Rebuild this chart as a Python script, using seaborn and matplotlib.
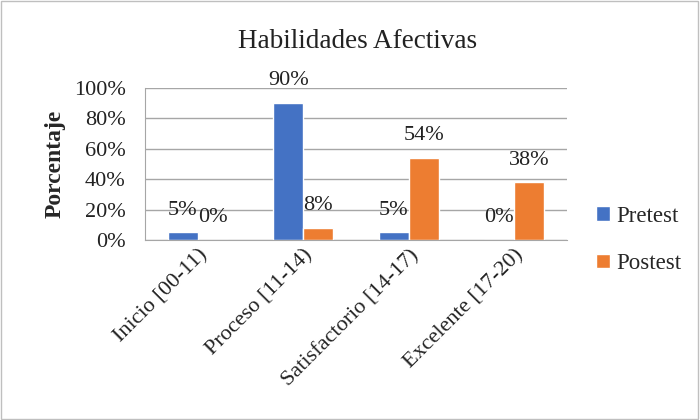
import matplotlib
matplotlib.use("Agg")
import matplotlib.pyplot as plt
import seaborn as sns
import pandas as pd
from matplotlib.patches import Rectangle
from matplotlib.ticker import PercentFormatter

# Data
categorias = ["Inicio [00-11)", "Proceso [11-14)", "Satisfactorio [14-17)", "Excelente [17-20)"]
pretest = [5, 90, 5, 0]
postest = [0, 8, 54, 38]
series = ["Pretest", "Postest"]
colores = ["#4472C4", "#ED7D31"]

df = pd.DataFrame({
    "categoria": categorias * 2,
    "valor": pretest + postest,
    "serie": [series[0]] * len(categorias) + [series[1]] * len(categorias),
})

sns.set_style("white")
plt.rcParams["font.family"] = "serif"
plt.rcParams["font.serif"] = ["Liberation Serif", "DejaVu Serif"]
FAM = ["Liberation Serif", "DejaVu Serif"]

fig = plt.figure(figsize=(7, 4.2), dpi=100)
ax = fig.add_axes([145 / 700, 1 - 240 / 420, 422 / 700, 152 / 420])

sns.barplot(data=df, x="categoria", y="valor", hue="serie", palette=colores,
            width=0.57, saturation=1, ax=ax, legend=True)

# data labels (Excel style, above bars)
for cont in ax.containers:
    for bar in cont:
        h = bar.get_height()
        ax.annotate(f"{h:.0f}%", (bar.get_x() + bar.get_width() / 2, h),
                    xytext=(0, 16), textcoords="offset points",
                    ha="center", va="center", fontsize=16, color="#222222",
                    family=FAM)

ax.set_ylim(0, 100)
ax.set_yticks(range(0, 101, 20))
ax.yaxis.set_major_formatter(PercentFormatter(decimals=0))
ax.yaxis.grid(True, color="#A6A6A6", linewidth=1)
ax.set_axisbelow(True)
ax.tick_params(axis="both", length=0, labelsize=16, colors="#222222")
ax.tick_params(axis="y", pad=14)
ax.tick_params(axis="x", pad=4)
ax.set_xlabel("")
ax.set_ylabel("Porcentaje", fontsize=17, fontweight="bold", labelpad=6, family=FAM)
for lbl in ax.get_xticklabels() + ax.get_yticklabels():
    lbl.set_family(FAM)
for lbl in ax.get_xticklabels():
    lbl.set_rotation(45)
    lbl.set_ha("right")
    lbl.set_rotation_mode("anchor")

for s in ["top", "right"]:
    ax.spines[s].set_visible(False)
ax.spines["left"].set_color("#A6A6A6")
ax.spines["bottom"].set_color("#A6A6A6")

fig.text(358 / 700, 1 - 42 / 420, "Habilidades Afectivas", ha="center", va="center",
         fontsize=19.5, color="#222222", family=FAM)

leg = ax.legend(loc="center left", bbox_to_anchor=(1.02, 0.0), frameon=False,
                prop={"family": FAM, "size": 16.5}, handlelength=0.6, handleheight=0.6,
                handletextpad=0.3, labelspacing=1.15)

fig.patches.append(Rectangle((0.002, 0.003), 0.995, 0.994, transform=fig.transFigure,
                             fill=False, edgecolor="#BFBFBF", linewidth=1))

fig.savefig("out.png", dpi=100)
